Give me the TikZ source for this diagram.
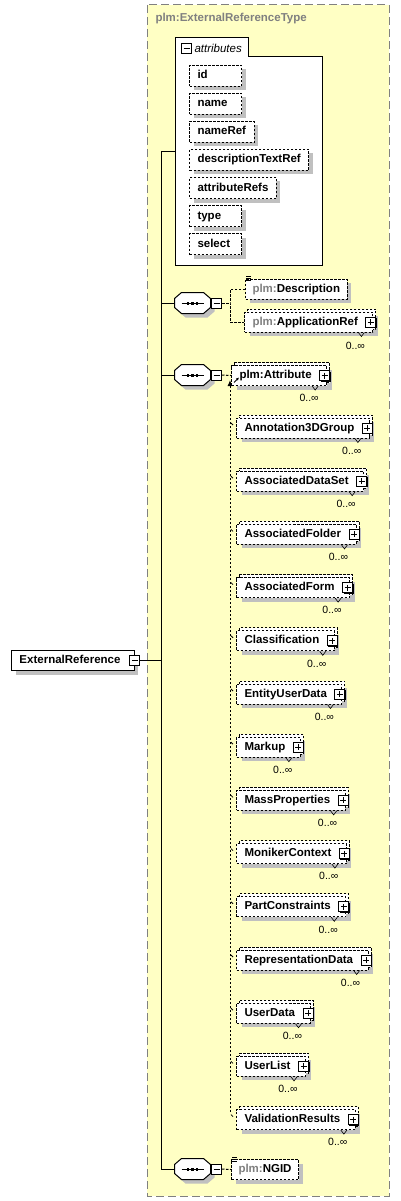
\documentclass[tikz,border=0pt]{standalone}
\usepackage{fontspec}
\setmainfont{Liberation Sans}
\usetikzlibrary{arrows.meta,shadows}
\definecolor{paneyellow}{RGB}{255,255,196}
\definecolor{shadowgray}{RGB}{192,192,192}
\definecolor{prefixgray}{RGB}{128,128,128}
\newcommand{\pfx}{\textcolor{prefixgray}{plm:}}
\newlength{\attrw}
\newcommand{\attrtext}[1]{\settowidth{\attrw}{#1}\ifdim\attrw<36pt\attrw=36pt\fi\makebox[\attrw][l]{#1}}
\tikzset{
  every node/.style={font=\fontsize{11.5}{13}\selectfont\bfseries},
  dashline/.style={dash pattern=on 2.5pt off 1.5pt},
  greyshadow/.style={general shadow={fill=shadowgray, shadow xshift=#1, shadow yshift=-4pt}},
  greyshadow/.default=4pt,
  itembox/.style={draw, dashline, fill=white, anchor=west, inner xsep=8pt, inner ysep=0pt,
    minimum height=20pt, text height=8.5pt, text depth=2.5pt, greyshadow},
  attrbox/.style={itembox, minimum height=21pt},
  multibox/.style={draw, dashline, fill=white, anchor=west, inner xsep=8pt, inner ysep=0pt,
    minimum height=20pt, text height=8.5pt, text depth=2.5pt, greyshadow=5pt,
    general shadow={draw=black, dashline, fill=white, shadow xshift=3pt, shadow yshift=3pt}},
  seqbox/.style={rectangle, inner sep=0pt, minimum width=35pt, minimum height=20pt},
  minusicon/.style={draw, solid, fill=white, minimum size=10pt, inner sep=0pt,
    path picture={\draw ([xshift=2pt]path picture bounding box.west) -- ([xshift=-2pt]path picture bounding box.east);}},
  plusicon/.style={draw, solid, fill=white, minimum size=10pt, inner sep=0pt,
    general shadow={fill=black, shadow xshift=1pt, shadow yshift=-1pt},
    path picture={\draw ([xshift=2pt]path picture bounding box.west) -- ([xshift=-2pt]path picture bounding box.east);
      \draw ([yshift=-2pt]path picture bounding box.north) -- ([yshift=2pt]path picture bounding box.south);}},
  occurs/.style={font=\fontsize{10.5}{12}\selectfont, anchor=north east, inner sep=0pt}
}

\begin{document}
\begin{tikzpicture}[x=1pt, y=-1pt, line width=1pt]
\useasboundingbox (0,0) rectangle (400,1201);
% complex type pane
\draw[fill=paneyellow, draw=prefixgray, dash pattern=on 8pt off 4pt] (147,5) rectangle (389,1196);
\node[anchor=west, text=prefixgray, inner sep=0pt] (typename) at (155,19) {plm:ExternalReferenceType};

% attributes
\draw[fill=white] (175,38) -- (248,38) -- (248,57) -- (322,57) -- (322,265) -- (175,265) -- cycle;
\node[minusicon] (attr-minus) at (186.5,48.5) {};
\node[anchor=west, inner sep=0pt, font=\fontsize{11.5}{13}\selectfont\itshape] (attr-title) at (194,48) {attributes};
\node[attrbox] (attr-id) at (189,76) {\attrtext{id}};
\node[attrbox] (attr-name) at (189,104) {\attrtext{name}};
\node[attrbox] (attr-nameref) at (189,132) {\attrtext{nameRef}};
\node[attrbox] (attr-desc) at (189,160) {\attrtext{descriptionTextRef}};
\node[attrbox] (attr-refs) at (189,188) {\attrtext{attributeRefs}};
\node[attrbox] (attr-type) at (189,216) {\attrtext{type}};
\node[attrbox] (attr-select) at (189,244) {\attrtext{select}};
\coordinate (attr-port) at (175,152);

% root element
\node[itembox, solid] (extref) at (11,660.5) {ExternalReference\hspace*{6pt}};
\node[minusicon] (extref-minus) at (extref.east) {};

% trunk
\coordinate (trunk-top) at (161,152);
\coordinate (trunk-bot) at (161,1169);
\draw (attr-port) -- (trunk-top) -- (trunk-bot);
\draw (extref-minus.east) -- (extref-minus.east -| trunk-top);

% sequences
\node[seqbox] (seq-1) at (192.5,303) {};
\node[seqbox] (seq-2) at (192.5,375) {};
\node[seqbox] (seq-3) at (192.5,1169) {};
\foreach \s in {1,2,3} {
  \draw[fill=white, greyshadow] ([xshift=7pt]seq-\s.north west) -- ([xshift=-7pt]seq-\s.north east)
    -- ([yshift=-6pt]seq-\s.north east) -- ([yshift=6pt]seq-\s.south east)
    -- ([xshift=-7pt]seq-\s.south east) -- ([xshift=7pt]seq-\s.south west)
    -- ([yshift=6pt]seq-\s.south west) -- ([yshift=-6pt]seq-\s.north west) -- cycle;
  \node[minusicon] (seq-\s-minus) at ([xshift=6pt]seq-\s.east) {};
  \draw (seq-\s.west -| trunk-top) -- (seq-\s.west);
  \draw[line width=0.8pt] ([xshift=-11pt]seq-\s.center) -- ([xshift=11pt]seq-\s.center);
  \foreach \d in {-4.5,0,4.5}
    \fill ([xshift=\d pt-1.3pt,yshift=-1.5pt]seq-\s.center) rectangle ++(2.6,-3);
}

% first sequence
\node[itembox, inner xsep=7pt] (desc) at (245,289) {\pfx Description};
\node[multibox] (appref) at (244,322) {\pfx ApplicationRef\hspace*{7pt}};
\node[plusicon] (appref-plus) at ([xshift=-2.5pt]appref.east) {};
\node[occurs] (appref-occ) at ([xshift=-8pt,yshift=-9pt]appref.south east) {0..∞};
\draw[line width=0.6pt] ([xshift=-15pt]appref.south east) -- ++(3,4) -- ++(3,-4);
\draw[dashline] (seq-1-minus.east) -- ++(8,0) coordinate (fork-1);
\draw[dashline] (desc.west) -| (fork-1) |- (appref.west);
\foreach \k in {2,0,-2}
  \draw[line width=0.6pt] ([xshift=1pt,yshift=\k pt]desc.north west) -- ++(5,0);

% second sequence
\node[multibox] (attrel) at (231,375.5) {plm:Attribute\hspace*{7pt}};
\node[plusicon] (attrel-plus) at ([xshift=-2.5pt]attrel.east) {};
\node[occurs] (attrel-occ) at ([xshift=-8pt,yshift=-8pt]attrel.south east) {0..∞};
\draw[line width=0.6pt] ([xshift=-15pt]attrel.south east) -- ++(3,4) -- ++(3,-4);
\draw[dashline] (seq-2-minus.east) -- (attrel.west);
\draw[line width=0.8pt, -{Latex[length=3pt,width=3pt]}] ([xshift=3pt,yshift=-7pt]attrel.west) -- ++(5,-5);

\coordinate (subst-head) at (230,380);
\coordinate (subst-foot) at (230,1112);
\draw[dashline, -{Latex[length=6pt,width=5pt]}] (subst-foot) -- (subst-head);
\foreach \elname [count=\i] in {Annotation3DGroup, AssociatedDataSet, AssociatedFolder,
    AssociatedForm, Classification, EntityUserData, Markup, MassProperties, MonikerContext,
    PartConstraints, RepresentationData, UserData, UserList, ValidationResults} {
  \node[multibox] (subst-\i) at (236,{428+53.2*(\i-1)}) {\elname\hspace*{7pt}};
  \node[plusicon] (subst-\i-plus) at ([xshift=-2.5pt]subst-\i.east) {};
  \node[occurs] (subst-\i-occ) at ([xshift=-8pt,yshift=-8pt]subst-\i.south east) {0..∞};
  \draw[line width=0.6pt] ([xshift=-15pt]subst-\i.south east) -- ++(3,4) -- ++(3,-4);
  \draw[line width=0.8pt] ([xshift=-5pt,yshift=5pt]subst-\i.west) -- ++(2,2);
}

% third sequence
\node[itembox, inner xsep=7pt] (ngid) at (231,1169.5) {\pfx NGID};
\draw[dashline] (seq-3-minus.east) -- (ngid.west);
\foreach \k in {2,0,-2}
  \draw[line width=0.6pt] ([xshift=1pt,yshift=\k pt]ngid.north west) -- ++(5,0);
\end{tikzpicture}
\end{document}
